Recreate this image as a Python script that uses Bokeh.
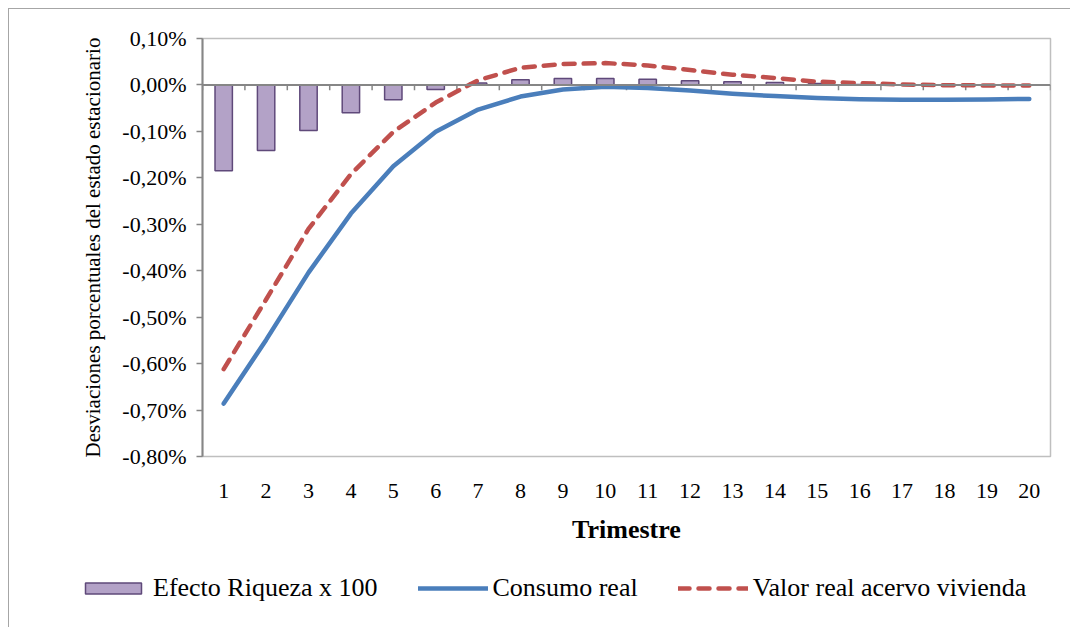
from bokeh.plotting import figure
from bokeh.layouts import column
from bokeh.models import (Range1d, FixedTicker, CustomJSTickFormatter, Span,
                          Legend, LegendItem, LinearAxis)
from bokeh.embed import file_html
from bokeh.resources import INLINE

# Quarters after the shock
trimestre = list(range(1, 21))

# Wealth effect (x 100), % deviation from steady state
efecto_riqueza = [-0.185, -0.141, -0.098, -0.060, -0.032, -0.010, 0.004, 0.011,
                  0.014, 0.014, 0.012, 0.009, 0.007, 0.005, 0.003, 0.001,
                  0.0005, 0.0, 0.0, 0.0]

# Real consumption, % deviation from steady state
consumo_real = [-0.686, -0.549, -0.404, -0.277, -0.175, -0.101, -0.053, -0.025,
                -0.010, -0.004, -0.0065, -0.012, -0.019, -0.024, -0.028, -0.031,
                -0.032, -0.032, -0.0315, -0.030]

# Real value of the housing stock, % deviation from steady state
valor_vivienda = [-0.612, -0.462, -0.310, -0.192, -0.101, -0.038, 0.010, 0.037,
                  0.045, 0.047, 0.042, 0.032, 0.022, 0.015, 0.007, 0.004,
                  0.001, -0.0005, -0.001, -0.001]

y_ticks = [0.1, 0.0, -0.1, -0.2, -0.3, -0.4, -0.5, -0.6, -0.7, -0.8]

series_names = ["Efecto Riqueza x 100", "Consumo real", "Valor real acervo vivienda"]

FONT = "Liberation Serif"
AXIS_GREY = "#868686"
BAR_FILL, BAR_LINE = "#B3A2C7", "#5F497A"
BLUE, RED = "#4A7EBB", "#C0504D"
DASH = "11 9"
NAN = float("nan")

p = figure(width=1061, height=551, output_backend="svg", toolbar_location=None,
           x_range=Range1d(0.5, 20.5), y_range=Range1d(-0.8, 0.1),
           x_axis_location=None, y_axis_location=None,
           min_border_left=193, min_border_right=20,
           min_border_top=29, min_border_bottom=104)
p.frame_align = False
p.grid.visible = False
p.outline_line_color = "#bfbfbf"
p.outline_line_width = 1.5
p.background_fill_color = "white"
p.border_fill_color = "white"

# Y axis
yaxis = LinearAxis(ticker=FixedTicker(ticks=y_ticks),
                   formatter=CustomJSTickFormatter(
                       code="return tick.toFixed(2).replace('.', ',') + '%';"))
yaxis.axis_label = "Desviaciones porcentuales del estado estacionario"
yaxis.axis_label_text_font = FONT
yaxis.axis_label_text_font_style = "normal"
yaxis.axis_label_text_font_size = "21px"
yaxis.axis_label_text_color = "black"
yaxis.axis_label_standoff = 14
yaxis.major_label_text_font = FONT
yaxis.major_label_text_font_size = "22px"
yaxis.major_label_text_color = "black"
yaxis.major_label_standoff = 10
yaxis.axis_line_color = AXIS_GREY
yaxis.axis_line_width = 2
yaxis.major_tick_line_color = AXIS_GREY
yaxis.major_tick_line_width = 1.5
yaxis.major_tick_out = 6
yaxis.major_tick_in = 0
yaxis.minor_tick_line_color = None
p.add_layout(yaxis, "left")

# X axis: labels only, the axis line itself sits on zero
xaxis = LinearAxis(ticker=FixedTicker(ticks=trimestre))
xaxis.axis_label = "Trimestre"
xaxis.axis_label_text_font = FONT
xaxis.axis_label_text_font_style = "bold"
xaxis.axis_label_text_font_size = "26px"
xaxis.axis_label_text_color = "black"
xaxis.axis_label_standoff = 14
xaxis.major_label_text_font = FONT
xaxis.major_label_text_font_size = "22px"
xaxis.major_label_text_color = "black"
xaxis.major_label_standoff = 27
xaxis.axis_line_color = None
xaxis.major_tick_line_color = None
xaxis.major_tick_out = 0
xaxis.major_tick_in = 0
xaxis.minor_tick_line_color = None
p.add_layout(xaxis, "below")

# Category axis on the zero line with ticks between quarters
p.add_layout(Span(location=0, dimension="width", line_color=AXIS_GREY, line_width=2))
bounds = [t - 0.5 for t in trimestre] + [trimestre[-1] + 0.5]
p.segment(x0=bounds, y0=[0] * len(bounds), x1=bounds, y1=[-0.0115] * len(bounds),
          line_color=AXIS_GREY, line_width=1.5)

p.vbar(x=trimestre, top=efecto_riqueza, bottom=0, width=0.41,
       fill_color=BAR_FILL, line_color=BAR_LINE, line_width=1.5)
p.line(trimestre, consumo_real, line_color=BLUE, line_width=4.5,
       line_cap="round", line_join="round")
p.line(trimestre, valor_vivienda, line_color=RED, line_width=4.5,
       line_dash=DASH, line_cap="round", line_join="round")

# Legend strip below the chart, with key glyphs styled like the series
leg = figure(width=1061, height=67, output_backend="svg", toolbar_location=None,
             x_range=Range1d(0, 1), y_range=Range1d(0, 1),
             x_axis_location=None, y_axis_location=None, min_border=0)
leg.frame_align = False
leg.grid.visible = False
leg.outline_line_color = None
leg.border_fill_color = "white"
k_bar = leg.vbar(x=[NAN], top=[NAN], width=0.1, fill_color=BAR_FILL,
                 line_color=BAR_LINE, line_width=1.5)
k_cons = leg.line(x=[NAN], y=[NAN], line_color=BLUE, line_width=4.5, line_cap="round")
k_viv = leg.line(x=[NAN], y=[NAN], line_color=RED, line_width=4.5, line_dash=DASH,
                 line_cap="round")

legend = Legend(items=[
    LegendItem(label=series_names[0], renderers=[k_bar]),
    LegendItem(label=series_names[1], renderers=[k_cons]),
    LegendItem(label=series_names[2], renderers=[k_viv]),
], location=(69, 24), orientation="horizontal")
legend.label_text_font = FONT
legend.label_text_font_size = "26px"
legend.label_text_color = "black"
legend.glyph_width = 70
legend.glyph_height = 14
legend.label_standoff = 5
legend.spacing = 40
legend.padding = 0
legend.margin = 0
legend.border_line_color = None
legend.background_fill_alpha = 0
leg.add_layout(legend, "center")

page = column(p, leg, spacing=0)
page.styles = {"margin-left": "8px", "margin-top": "8px",
               "border-left": "1px solid #a6a6a6", "border-top": "1px solid #a6a6a6"}

open("out.html", "w").write(file_html(page, INLINE))
